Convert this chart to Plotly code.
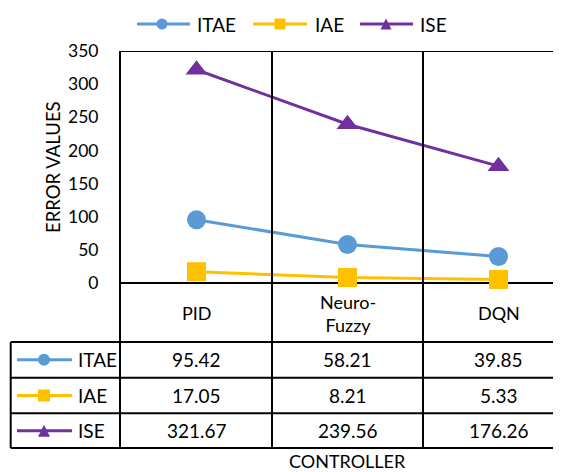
import plotly.graph_objects as go

categories = ["PID", "Neuro-Fuzzy", "DQN"]
category_labels = ["PID", "Neuro-<br>Fuzzy", "DQN"]
itae = [95.42, 58.21, 39.85]
iae = [17.05, 8.21, 5.33]
ise = [321.67, 239.56, 176.26]
series_names = ["ITAE", "IAE", "ISE"]
series_values = [itae, iae, ise]
colors = ["#5B9BD5", "#FFC000", "#7030A0"]
symbols = ["circle", "square", "triangle-up"]
y_ticks = [0, 50, 100, 150, 200, 250, 300, 350]

OFF = 8  # page body margin offset
W, H = 561 - OFF, 472 - OFF
FONT = "Lato"


def X(px):  # window pixel -> figure pixel
    return px - OFF


L, R = X(121), 0
T = X(51)
BOT = X(448)
B = H - BOT
PW, PH = W - L - R, H - T - B

ppu = (283 - 51) / 350.0
y_min = -(448 - 283) / ppu
x_pos = [0.5, 1.5, 2.5]
x_max = PW / 151.0


def px2py(py):  # window pixel y -> data y
    return (283 - py) / ppu


def pxx(px):  # window pixel x -> paper x
    return (X(px) - L) / PW


def pxy(py):  # window pixel y -> paper y
    return (BOT - X(py)) / PH


fig = go.Figure()
for name, vals, c, s in zip(series_names, series_values, colors, symbols):
    fig.add_trace(go.Scatter(
        x=x_pos, y=vals, name=name, mode="lines+markers",
        line=dict(color=c, width=3),
        marker=dict(symbol=s, size=19, color=c),
        cliponaxis=False, showlegend=False,
    ))

shapes = []
annotations = []
blk = dict(color="black", width=2)
shapes.append(dict(type="line", xref="paper", yref="y", x0=0, x1=1.05, y0=350, y1=350, line=blk))
for xv in [1, 2]:
    shapes.append(dict(type="line", xref="x", yref="paper", x0=xv, x1=xv, y0=0, y1=1, line=blk))
row_lines_px = [342, 377.7, 413.3, 448]
for py in row_lines_px:
    shapes.append(dict(type="line", xref="paper", yref="paper", x0=pxx(10.7), x1=1.05,
                       y0=pxy(py), y1=pxy(py), line=blk))
shapes.append(dict(type="line", xref="paper", yref="paper", x0=pxx(10.7), x1=pxx(10.7),
                   y0=pxy(342), y1=pxy(448), line=blk))


def legend_key(x0, x1, xm, yc, c, s, r):
    shapes.append(dict(type="line", xref="paper", yref="paper", x0=pxx(x0), x1=pxx(x1),
                       y0=pxy(yc), y1=pxy(yc), line=dict(color=c, width=3)))
    if s == "circle":
        shapes.append(dict(type="circle", xref="paper", yref="paper", x0=pxx(xm - r), x1=pxx(xm + r),
                           y0=pxy(yc + r), y1=pxy(yc - r), fillcolor=c, line=dict(width=0)))
    elif s == "square":
        shapes.append(dict(type="rect", xref="paper", yref="paper", x0=pxx(xm - r), x1=pxx(xm + r),
                           y0=pxy(yc + r), y1=pxy(yc - r), fillcolor=c, line=dict(width=0)))
    else:
        path = (f"M {pxx(xm - r)} {pxy(yc + r)} L {pxx(xm + r)} {pxy(yc + r)} "
                f"L {pxx(xm)} {pxy(yc - r)} Z")
        shapes.append(dict(type="path", xref="paper", yref="paper", path=path, fillcolor=c,
                           line=dict(width=0)))


def text(px, py, t, size=18, xanchor="center", **kw):
    annotations.append(dict(x=pxx(px), y=pxy(py), xref="paper", yref="paper", text=t,
                            showarrow=False, xanchor=xanchor, yanchor="middle",
                            font=dict(family=FONT, size=size, color="black"), **kw))


# category labels
for xv, lab in zip(x_pos, category_labels):
    annotations.append(dict(x=xv, y=px2py(313), xref="x", yref="y", text=lab, showarrow=False,
                            font=dict(family=FONT, size=18, color="black"), align="center",
                            yanchor="middle"))
# table rows
row_centers_px = [(342 + 377.7) / 2, (377.7 + 413.3) / 2, (413.3 + 448) / 2]
for name, vals, c, s, pyc in zip(series_names, series_values, colors, symbols, row_centers_px):
    for xv, v in zip(x_pos, vals):
        annotations.append(dict(x=xv, y=px2py(pyc), xref="x", yref="y", text=f"{v:.2f}",
                                showarrow=False, font=dict(family=FONT, size=19, color="black"),
                                yanchor="middle"))
    text(76, pyc, name, size=19, xanchor="left")
    legend_key(17, 72, 44, pyc, c, s, 6)

# top legend
leg_lines = [(137, 190, 162, 195), (253, 307, 280, 313), (360, 413, 386, 418)]
for (x0, x1, xm, xt), name, c, s in zip(leg_lines, series_names, colors, symbols):
    legend_key(x0, x1, xm, 24, c, s, 5.5)
    text(xt, 24, name, size=19, xanchor="left")

# axis titles
text(53, 167, "ERROR VALUES", size=18.5, textangle=-90)
text(347.5, 461, "CONTROLLER", size=18)

fig.update_layout(
    width=W, height=H,
    margin=dict(l=L, r=R, t=T, b=B, pad=0),
    paper_bgcolor="white", plot_bgcolor="white",
    font=dict(family=FONT, size=18, color="black"),
    showlegend=False,
    xaxis=dict(range=[0, x_max], showgrid=False, zeroline=False, showline=False,
               showticklabels=False, ticks="", fixedrange=True),
    yaxis=dict(range=[y_min, 350], tickvals=y_ticks, ticktext=[str(v) for v in y_ticks],
               showgrid=False, zeroline=True, zerolinecolor="black", zerolinewidth=2,
               showline=True, linecolor="black", linewidth=2, ticks="",
               ticklabelstandoff=17, tickfont=dict(family=FONT, size=17.5, color="black")),
    shapes=shapes, annotations=annotations,
)

fig.write_html("out.html")
